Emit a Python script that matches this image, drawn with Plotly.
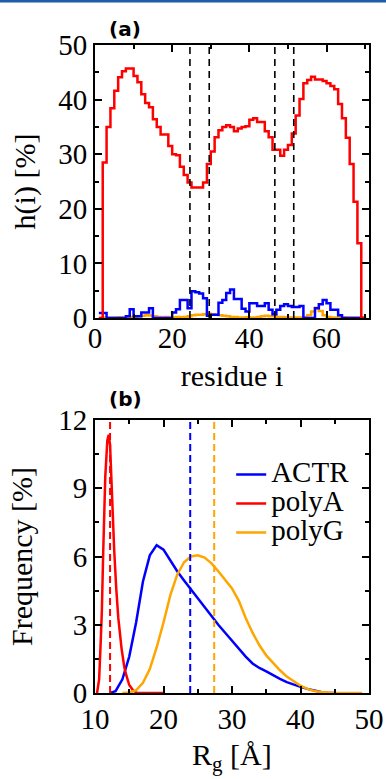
import plotly.graph_objects as go

# ---------------- Panel (a): helicity per residue ----------------
residues = list(range(1, 71))
h_polyA = [0, 28.5, 35.0, 38.4, 41.6, 44.1, 45.2, 45.7, 45.7, 44.3,
           43.2, 41.0, 39.4, 38.6, 36.4, 35.0, 33.6, 33.6, 31.5, 30.0,
           29.8, 27.7, 26.2, 24.8, 23.9, 23.9, 23.9, 24.8, 28.2, 30.5,
           33.1, 34.4, 35.0, 35.3, 35.0, 34.2, 34.7, 35.0, 35.1, 36.3,
           36.6, 35.9, 35.9, 34.2, 33.1, 30.8, 30.8, 29.7, 30.8, 31.7,
           33.8, 37.1, 40.1, 43.0, 43.6, 44.2, 43.7, 43.7, 43.4, 43.0,
           42.5, 41.9, 39.2, 36.6, 33.0, 28.2, 21.3, 13.7, 0, 0]
h_ACTR = [0.9, 0.9, 0, 0, 0, 0, 0, 0.3, 1.6, 0.3,
          0.3, 1.0, 1.0, 1.8, 0, 0, 0, 0, 0, 1.0,
          1.6, 3.3, 3.3, 1.8, 4.9, 4.7, 4.5, 3.6, 0.4, 0.6,
          0.6, 2.8, 3.3, 4.6, 5.2, 3.5, 3.5, 1.7, 1.2, 2.7,
          2.7, 2.2, 2.2, 2.7, 1.5, 0.7, 1.5, 2.2, 2.5, 2.2,
          2.0, 2.0, 2.2, 0, 0, 0, 1.8, 2.5, 3.3, 2.7,
          1.5, 1.5, 0.5, 0, 0, 0, 0, 0, 0, 0]
h_polyG = [0, 0.1, 0.1, 0.1, 0.1, 0.15, 0.1, 0.15, 0.2, 0.25,
           0.3, 0.4, 0.5, 0.45, 0.3, 0.2, 0.15, 0.2, 0.1, 0.1,
           0.2, 0.15, 0.2, 0.3, 0.5, 0.6, 0.6, 0.7, 0.8, 0.7,
           0.6, 0.5, 0.4, 0.3, 0.2, 0.2, 0.1, 0.1, 0.15, 0.1,
           0.1, 0.2, 0.3, 0.4, 0.3, 0.3, 0.2, 0.2, 0.15, 0.1,
           0.1, 0.1, 0.1, 0.2, 0.5, 1.2, 1.9, 1.3, 0.5, 0.2,
           0.1, 0.1, 0.1, 0.15, 0.1, 0.1, 0.1, 0.1, 0.1, 0]
segment_bounds = [24.6, 29.6, 46.6, 51.5]

# ---------------- Panel (b): Rg distributions ----------------
rg_ACTR = [12.2, 13, 14, 15, 16, 17, 18, 19, 20, 21, 22, 23, 24, 25, 26, 27, 28,
           29, 30, 31, 32, 33, 34, 35, 36, 37, 38, 39, 40, 41, 42, 43, 44, 45]
f_ACTR = [0, 0.08, 0.6, 1.6, 3.1, 4.9, 6.05, 6.5, 6.3, 5.8, 5.35, 4.95, 4.55, 4.15,
          3.8, 3.4, 3.0, 2.65, 2.3, 1.95, 1.6, 1.3, 1.1, 0.95, 0.78, 0.62, 0.48,
          0.36, 0.27, 0.18, 0.1, 0.04, 0.0, 0.0]
rg_polyA = [10.3, 10.6, 10.8, 11.0, 11.2, 11.5, 11.8, 12.0, 12.2, 12.4, 12.6, 12.8,
            13.1, 13.4, 13.9, 14.3, 14.6, 15.0, 15.6, 16.2, 18, 20]
f_polyA = [0, 0.6, 2.0, 3.6, 6.2, 9.5, 11.1, 11.35, 10.9, 9.3, 7.5, 6.3,
           4.6, 3.3, 1.9, 1.1, 0.75, 0.35, 0.1, 0, 0, 0]
rg_polyG = [14, 15, 16, 17, 18, 19, 20, 21, 22, 23, 24, 25, 26, 27, 28, 29, 30, 31,
            32, 33, 34, 35, 36, 37, 38, 39, 40, 41, 42, 43, 44, 45, 47, 49]
f_polyG = [0, 0.02, 0.12, 0.45, 1.05, 2.0, 3.1, 4.3, 5.2, 5.75, 6.0, 6.05, 5.95,
           5.7, 5.35, 5.0, 4.6, 4.05, 3.3, 2.65, 2.1, 1.65, 1.3, 1.0, 0.72, 0.5,
           0.32, 0.18, 0.09, 0.04, 0.01, 0, 0, 0]
rg_means = {"ACTR": 23.9, "polyA": 12.2, "polyG": 27.4}

colors = {"ACTR": "#0000ff", "polyA": "#ff0000", "polyG": "#ffa500"}
SERIF = "Liberation Serif, Times New Roman, Times, serif"

fig = go.Figure()

# panel (a) step lines
for name, vals in [("polyG", h_polyG), ("ACTR", h_ACTR), ("polyA", h_polyA)]:
    fig.add_trace(go.Scatter(x=residues, y=vals, mode="lines", line_shape="hv",
                             line=dict(color=colors[name], width=2.5),
                             showlegend=False, xaxis="x", yaxis="y"))
for xb in segment_bounds:
    fig.add_shape(type="line", xref="x", yref="y domain", x0=xb, x1=xb, y0=0, y1=1,
                  line=dict(color="black", width=1.6, dash="7px,5px"))

# panel (b) curves
for name, xs, ys in [("ACTR", rg_ACTR, f_ACTR), ("polyA", rg_polyA, f_polyA),
                     ("polyG", rg_polyG, f_polyG)]:
    fig.add_trace(go.Scatter(x=xs, y=ys, mode="lines",
                             name=f'<span style="font-size:29px">{name}</span>',
                             line=dict(color=colors[name], width=2.5),
                             xaxis="x2", yaxis="y2"))
for name, m in rg_means.items():
    fig.add_shape(type="line", xref="x2", yref="y2 domain", x0=m, x1=m, y0=0, y1=1,
                  line=dict(color=colors[name], width=2, dash="7px,4px"))

tickfont = dict(family=SERIF, size=29, color="black")
titlefont = dict(family=SERIF, size=30, color="black")


def axis_common(**kw):
    d = dict(showline=True, linewidth=2, linecolor="black", mirror="allticks",
             ticks="inside", ticklen=7, tickwidth=1.5, tickcolor="black",
             showgrid=False, zeroline=False, tickfont=tickfont, automargin=False)
    d.update(kw)
    return d


def minor(dt):
    return dict(dtick=dt, ticks="inside", ticklen=4, tickwidth=1.5, tickcolor="black",
                showgrid=False)


H = 779
mt, mb = 45, 86
ph = H - mt - mb

fig.update_layout(
    width=386, height=779,
    margin=dict(l=95, r=17, t=mt, b=mb),
    paper_bgcolor="white", plot_bgcolor="white",
    xaxis=axis_common(domain=[0, 1], anchor="y", range=[0, 71], tick0=0, dtick=20,
                      minor=minor(10), ticklabelstandoff=-7,
                      title=dict(text="residue i", font=titlefont, standoff=12)),
    yaxis=axis_common(domain=[(693 - 318) / ph, 1], anchor="x", range=[0, 50], tick0=0,
                      dtick=10, minor=minor(5),
                      title=dict(text="h(i) [%]", font=titlefont, standoff=14)),
    xaxis2=axis_common(domain=[0, 1], anchor="y2", range=[10, 50], tick0=10, dtick=10,
                       minor=minor(5), ticklabelstandoff=-1),
    yaxis2=axis_common(domain=[0, (693 - 420) / ph], anchor="x2", range=[0, 12], tick0=0,
                       dtick=3, minor=minor(1.5),
                       title=dict(text="Frequency [%]", font=titlefont, standoff=17)),
    legend=dict(x=0.497, y=(693 - 455) / ph, xanchor="left", yanchor="top",
                font=dict(family=SERIF, size=20, color="black"),
                bgcolor="rgba(0,0,0,0)", itemwidth=30),
    showlegend=True,
)

# x-axis title of panel (b), placed close to the bottom edge as in the original
fig.add_annotation(text="R<sub>g</sub> [Å]", xref="paper", yref="paper",
                   x=0.5, y=(693 - 757) / ph, showarrow=False, borderpad=0,
                   xanchor="center", yanchor="middle", font=titlefont)

# panel labels
fig.add_annotation(text="<b>(a)</b>", xref="paper", yref="paper",
                   x=(125 - 95) / 274, y=(693 - 29) / ph, showarrow=False,
                   xanchor="center", yanchor="middle",
                   font=dict(family="DejaVu Sans", size=20, color="black"))
fig.add_annotation(text="<b>(b)</b>", xref="paper", yref="paper",
                   x=(125 - 95) / 274, y=(693 - 399) / ph, showarrow=False,
                   xanchor="center", yanchor="middle",
                   font=dict(family="DejaVu Sans", size=20, color="black"))

# journal header rule at top
fig.add_shape(type="rect", xref="paper", yref="paper",
              x0=-95 / 274, x1=1 + 17 / 274, y0=(693 - 2.5) / ph, y1=(693 + 1) / ph,
              fillcolor="#1f5ca8", line=dict(width=0))

fig.write_html("out.html")
